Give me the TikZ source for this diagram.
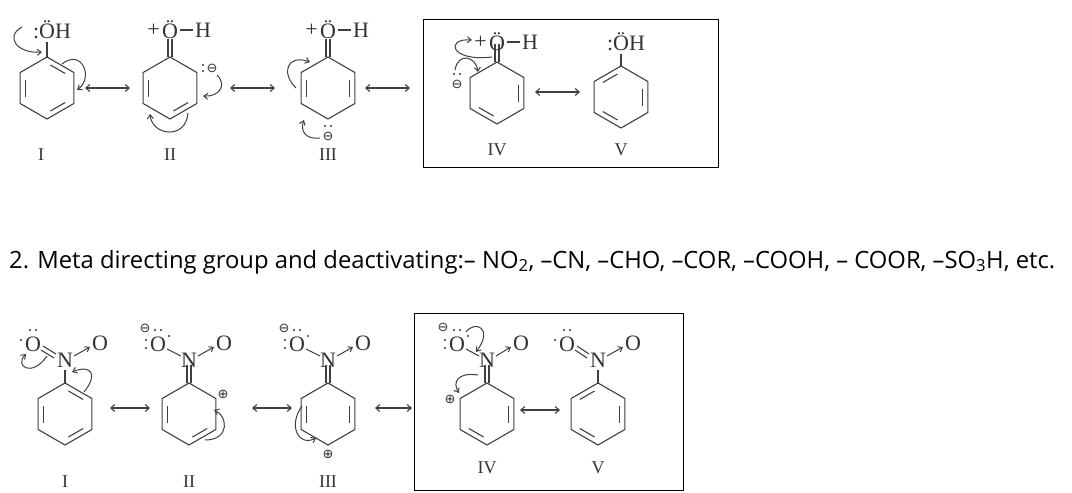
\documentclass[tikz,border=0pt]{standalone}
\usepackage{fontspec}
\setmainfont{Liberation Serif}
\newfontfamily\sansf{Open Sans}
\newfontfamily\djv{DejaVu Sans}
\usetikzlibrary{calc,arrows.meta,positioning}
\newcommand\ring[3]{%
  \draw[bond] (#1,#2) +(90:31) -- +(30:31) -- +(-30:31) -- +(-90:31) -- +(-150:31) -- +(150:31) -- cycle;
  \foreach \k in {#3}{\draw[bond,shorten <=4pt,shorten >=4pt] ($(#1,#2)+(150-60*\k:25)$) -- ($(#1,#2)+(90-60*\k:25)$);}}
\newcommand\exodbl[2]{%
  \draw[bond] (#1-2,#2) -- ++(0,18); \draw[bond] (#1+2,#2) -- ++(0,18);}
\begin{document}
\begin{tikzpicture}[x=1pt,y=1pt,
  bond/.style={draw=black!75,line width=1.1pt},
  curv/.style={draw=black!75,line width=1pt,-{Straight Barb[length=4pt,width=6pt]}},
  reso/.style={draw=black!75,line width=1.1pt,{Straight Barb[length=4pt,width=7pt]}-{Straight Barb[length=4pt,width=7pt]}},
  atom/.style={font=\fontsize{22}{22}\selectfont,text=black!80,inner sep=0pt},
  lab/.style={font=\fontsize{18}{18}\selectfont,text=black!80,inner sep=0pt},
  chg/.style={font=\djv\fontsize{13}{13}\selectfont,text=black!80,inner sep=0pt},
  dotc/.style={fill=black!80,draw=none}]
\useasboundingbox (0,0) rectangle (1072,-493);
\fill[white] (0,0) rectangle (1072,-493);
% ===== top row =====
\ring{47}{-88}{1,3,5}
\draw[bond] (47,-57) -- (47,-42);
\node[atom] (o1) at (52,-30) {:ÖH};
\node[lab] (l1) at (41,-155) {I};
\draw[curv] (22,-27) .. controls (4,-37) and (18,-54) .. (42,-52);
\draw[curv] (62,-64) .. controls (82,-48) and (94,-78) .. (77,-90);
\draw[reso] (85,-88) -- (130,-88);

\ring{170}{-88}{3,5}
\exodbl{170}{-57}
\node[atom] (o2) at (170,-30) {Ö};
\node[atom,left=2pt of o2] {+};
\draw[bond] (180,-30) -- (193,-30);
\node[atom] at (203,-30) {H};
\node[lab] (l2) at (170,-155) {II};
\node[chg] (m2) at (212,-68) {⊖};
\fill[dotc] (203,-65) circle (1.1) (203,-71) circle (1.1);
\draw[curv] (217,-75) .. controls (228,-86) and (218,-97) .. (203,-96);
\draw[curv] (188,-113) .. controls (186,-140) and (152,-136) .. (150,-114);
\draw[reso] (230,-88) -- (275,-88);

\ring{328}{-88}{2,5}
\exodbl{328}{-57}
\node[atom] (o3) at (328,-30) {Ö};
\node[atom,left=2pt of o3] {+};
\draw[bond] (338,-30) -- (351,-30);
\node[atom] at (361,-30) {H};
\node[chg] (m3) at (328,-136) {⊖};
\fill[dotc] (325,-126) circle (1.1) (331,-126) circle (1.1);
\draw[curv] (296,-88) .. controls (280,-72) and (288,-54) .. (310,-62);
\draw[curv] (320,-138) .. controls (305,-140) and (300,-130) .. (304,-120);
\node[lab] (l3) at (328,-155) {III};
\draw[reso] (365,-88) -- (410,-88);

\draw[line width=0.8pt] (423,-19) rectangle (718,-167);
\ring{497}{-93}{2,4}
\exodbl{497}{-62}
\node[atom] (o4) at (497,-42) {Ö};
\node[atom,left=2pt of o4] {+};
\draw[bond] (507,-42) -- (520,-42);
\node[atom] at (530,-42) {H};
\node[chg] (m4) at (457,-84) {⊖};
\fill[dotc] (454,-74) circle (1.1) (460,-74) circle (1.1);
\draw[curv] (492,-57) .. controls (450,-62) and (445,-38) .. (472,-40);
\draw[curv] (455,-70) .. controls (458,-52) and (476,-56) .. (478,-72);
\draw[reso] (535,-92) -- (580,-92);
\node[lab] (l4) at (497,-150) {IV};

\ring{621}{-97}{2,4,6}
\draw[bond] (621,-66) -- (621,-54);
\node[atom] (o5) at (626,-42) {:ÖH};
\node[lab] (l5) at (621,-150) {V};

% ===== text line =====
\node[anchor=west,inner sep=0pt,font=\sansf\fontsize{23.8}{24}\selectfont] (txt) at (9,-262)
 {2. Meta directing group and deactivating:– NO\textsubscript{2}, –CN, –CHO, –COR, –COOH, – COOR, –SO\textsubscript{3}H, etc.};

% ===== bottom row =====
\ring{65}{-414}{1,3,5}
\draw[bond] (65,-383) -- (65,-370);
\node[atom] (n1) at (65,-360) {N};
\node[atom] (ol1) at (33,-344) {O};
\node[atom] (or1) at (100,-343) {O};
\draw[bond] (43,-346) -- (56,-354); \draw[bond] (41,-350) -- (54,-358);
\draw[curv] (74,-356) -- (90,-347);
\fill[dotc] (30,-330) circle (1.2) (36,-330) circle (1.2) (21,-340) circle (1.2);
\draw[curv] (47,-356) .. controls (32,-378) and (14,-366) .. (26,-354);
\draw[curv] (84,-392) .. controls (98,-375) and (92,-364) .. (72,-372);
\node[lab] at (65,-482) {I};
\draw[reso] (110,-408) -- (150,-408);

\ring{189}{-414}{3,5}
\exodbl{189}{-383}
\node[atom] (n2) at (189,-360) {N};
\node[atom] (ol2) at (158,-344) {O};
\node[atom] (or2) at (224,-343) {O};
\draw[bond] (167,-349) -- (181,-356);
\draw[curv] (198,-356) -- (214,-347);
\node[chg] at (145,-328) {⊖};
\fill[dotc] (155,-330) circle (1.2) (161,-330) circle (1.2) (146,-340) circle (1.2) (146,-348) circle (1.2) (169,-336) circle (1.2);
\node[chg] at (223,-394) {⊕};
\draw[curv] (205,-440) .. controls (230,-440) and (228,-416) .. (214,-410);
\node[lab] at (189,-482) {II};
\draw[reso] (252,-408) -- (292,-408);

\ring{328}{-414}{2,5}
\exodbl{328}{-383}
\node[atom] (n3) at (328,-360) {N};
\node[atom] (ol3) at (297,-344) {O};
\node[atom] (or3) at (363,-343) {O};
\draw[bond] (306,-349) -- (320,-356);
\draw[curv] (337,-356) -- (353,-347);
\node[chg] at (284,-328) {⊖};
\fill[dotc] (294,-330) circle (1.2) (300,-330) circle (1.2) (285,-340) circle (1.2) (285,-348) circle (1.2) (308,-336) circle (1.2);
\node[chg] at (328,-454) {⊕};
\draw[curv] (302,-406) .. controls (288,-425) and (298,-447) .. (316,-438);
\node[lab] at (328,-482) {III};
\draw[reso] (375,-408) -- (412,-408);

\draw[line width=0.8pt] (414,-313) rectangle (683,-490);
\ring{487}{-414}{2,4}
\exodbl{487}{-383}
\node[atom] (n4) at (487,-360) {N};
\node[atom] (ol4) at (457,-344) {O};
\node[atom] (or4) at (521,-343) {O};
\draw[bond] (466,-349) -- (479,-356);
\draw[curv] (496,-356) -- (511,-347);
\node[chg] at (443,-327) {⊖};
\fill[dotc] (454,-330) circle (1.2) (460,-330) circle (1.2) (445,-340) circle (1.2) (445,-348) circle (1.2) (468,-336) circle (1.2);
\draw[curv] (466,-332) .. controls (475,-320) and (494,-328) .. (476,-352);
\draw[curv] (478,-375) .. controls (458,-372) and (452,-382) .. (459,-393);
\node[chg] at (450,-399) {⊕};
\node[lab] at (487,-468) {IV};
\draw[reso] (520,-410) -- (560,-410);

\ring{598}{-414}{2,4,6}
\draw[bond] (598,-383) -- (598,-370);
\node[atom] (n5) at (598,-360) {N};
\node[atom] (ol5) at (567,-344) {O};
\node[atom] (or5) at (633,-343) {O};
\draw[bond] (577,-346) -- (589,-354); \draw[bond] (575,-350) -- (587,-358);
\draw[curv] (607,-356) -- (623,-347);
\fill[dotc] (564,-330) circle (1.2) (570,-330) circle (1.2) (555,-340) circle (1.2);
\node[lab] at (598,-468) {V};
\end{tikzpicture}
\end{document}
